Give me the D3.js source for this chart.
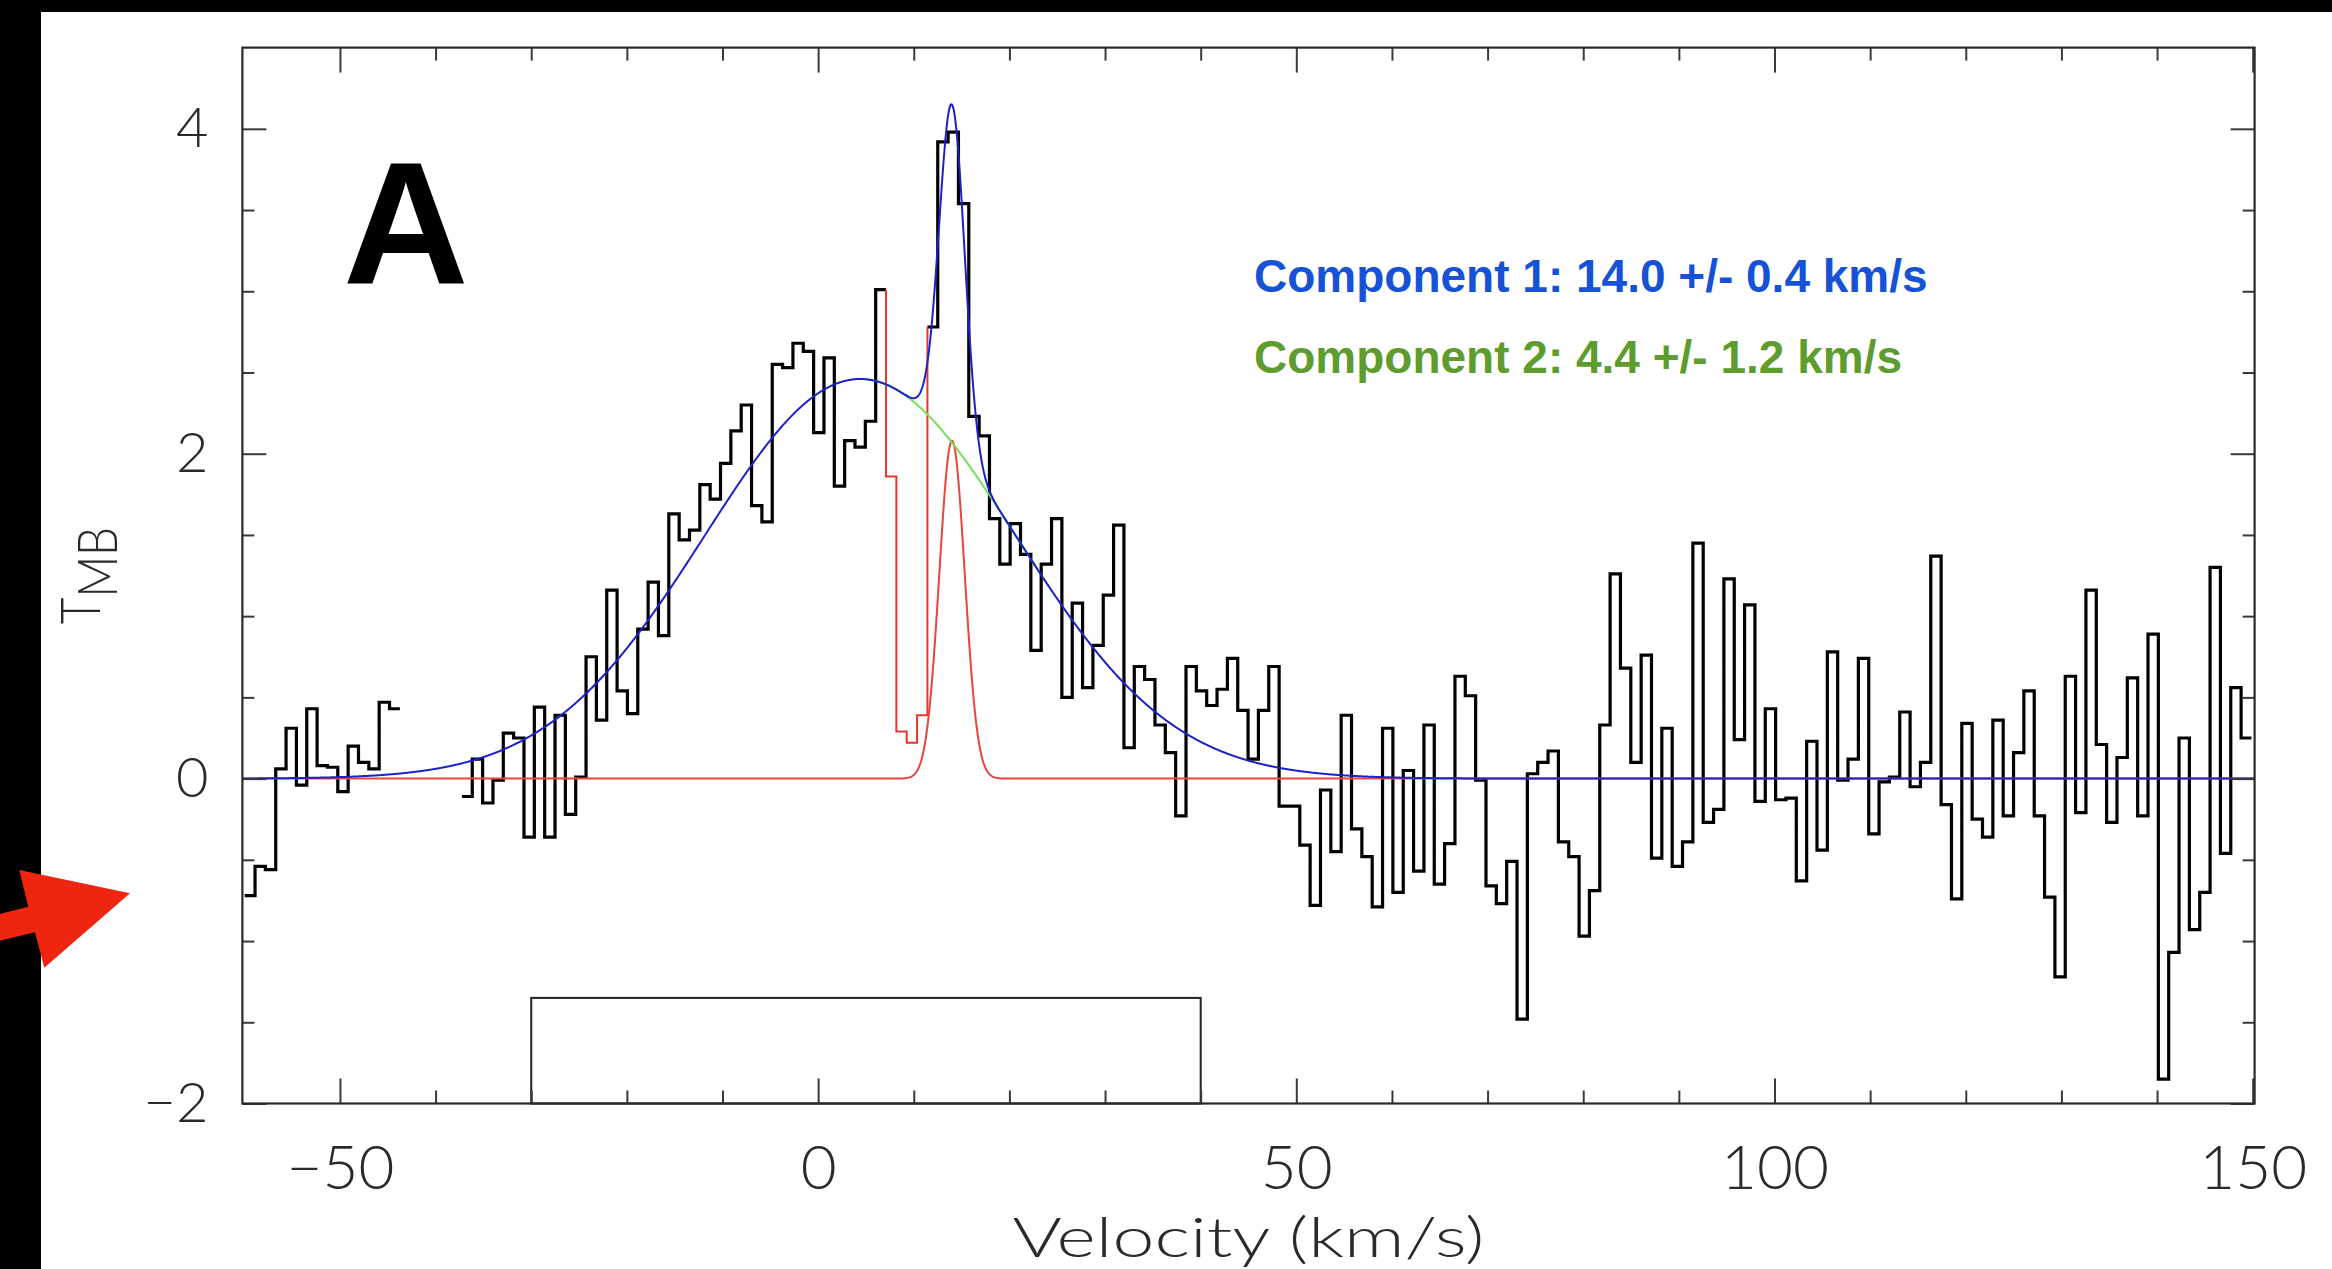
<!DOCTYPE html>
<html>
<head>
<meta charset="utf-8">
<script src="https://cdn.jsdelivr.net/npm/d3@7"></script>
<style>
  html, body { margin: 0; padding: 0; background: #ffffff; }
  svg { display: block; }
</style>
</head>
<body>
<svg id="chart" width="2332" height="1269"></svg>
<script>
// Spectrum channel grid (km/s): left edge of the first channel and channel width
const channelStart = -59.96;
const channelWidth = 1.0816;

// Main-beam temperature per channel (null = no data)
const tmb = [
  -0.72, -0.54, -0.56, 0.06, 0.31, -0.04, 0.43, 0.08, 0.07, -0.08,
  0.20, 0.10, 0.06, 0.47, 0.43, null, null, null, null, null,
  null, -0.11, 0.12, -0.15, -0.01, 0.28, 0.25, -0.36, 0.44, -0.36,
  0.39, -0.22, 0.01, 0.75, 0.36, 1.16, 0.54, 0.40, 0.92, 1.21,
  0.88, 1.63, 1.47, 1.53, 1.81, 1.72, 1.94, 2.14, 2.30, 1.68,
  1.58, 2.55, 2.53, 2.68, 2.63, 2.13, 2.59, 1.80, 2.08, 2.04,
  2.20, 3.01, 1.86, 0.29, 0.22, 0.39, 2.78, 3.92, 3.98, 3.54,
  2.23, 2.11, 1.60, 1.32, 1.57, 1.38, 0.79, 1.32, 1.60, 0.50,
  1.08, 0.56, 0.82, 1.13, 1.56, 0.19, 0.69, 0.61, 0.33, 0.16,
  -0.23, 0.69, 0.54, 0.45, 0.55, 0.74, 0.42, 0.12, 0.42, 0.69,
  -0.17, -0.17, -0.41, -0.78, -0.07, -0.45, 0.39, -0.31, -0.48, -0.79,
  0.31, -0.70, 0.05, -0.57, 0.33, -0.65, -0.40, 0.63, 0.51, -0.01,
  -0.66, -0.77, -0.51, -1.48, 0.03, 0.10, 0.17, -0.39, -0.48, -0.97,
  -0.69, 0.33, 1.26, 0.68, 0.10, 0.76, -0.49, 0.31, -0.54, -0.39,
  1.45, -0.27, -0.19, 1.23, 0.24, 1.07, -0.14, 0.43, -0.13, -0.12,
  -0.63, 0.23, -0.44, 0.78, -0.01, 0.12, 0.74, -0.34, -0.02, 0.01,
  0.41, -0.05, 0.10, 1.37, -0.16, -0.74, 0.34, -0.25, -0.36, 0.36,
  -0.23, 0.16, 0.54, -0.23, -0.73, -1.22, 0.63, -0.21, 1.16, 0.21,
  -0.27, 0.13, 0.62, -0.23, 0.89, -1.85, -1.07, 0.25, -0.93, -0.70,
  1.30, -0.46, 0.56, 0.25
];

// Channels drawn in red (excluded from the fit)
const flaggedChannels = [62, 63, 64, 65];

// Two-component Gaussian fit: centres (km/s), peak temperatures, dispersions (km/s)
const fitCenters = [14.0, 4.4];
const fitAmplitudes = [2.08, 2.46];
const fitSigmas = [1.33, 16.3];
const fitLabels = ["Component 1: 14.0 +/- 0.4 km/s", "Component 2: 4.4 +/- 1.2 km/s"];

// Velocity window marked under the spectrum
const windowRange = [-30, 40];
const windowTop = -1.35;

// Axis ticks
const xMajorTicks = [-50, 0, 50, 100, 150];
const xMinorTicks = [-40, -30, -20, -10, 10, 20, 30, 40, 60, 70, 80, 90, 110, 120, 130, 140];
const yMajorTicks = [-2, 0, 2, 4];
const yMinorTicks = [-1.5, -1, -0.5, 0.5, 1, 1.5, 2.5, 3, 3.5];

const panelLetter = "A";
const xTitle = "Velocity (km/s)";

// ---------------------------------------------------------------------------
const svg = d3.select("#chart");
const W = 2332, H = 1269;
const plot = { left: 242.4, right: 2254.6, top: 47.6, bottom: 1103.5 };

svg.append("rect").attr("width", W).attr("height", H).attr("fill", "#ffffff");
// dark border strips
svg.append("rect").attr("x", 0).attr("y", 0).attr("width", 41).attr("height", H).attr("fill", "#000");
svg.append("rect").attr("x", 0).attr("y", 0).attr("width", W).attr("height", 12).attr("fill", "#000");

const x = d3.scaleLinear().domain([-60.2, 150.2]).range([plot.left, plot.right]);
const y = d3.scaleLinear().domain([-2, 4.5]).range([plot.bottom, plot.top]);

svg.append("defs").append("clipPath").attr("id", "plotClip")
  .append("rect")
  .attr("x", plot.left).attr("y", plot.top)
  .attr("width", plot.right - plot.left).attr("height", plot.bottom - plot.top);

const marks = svg.append("g").attr("clip-path", "url(#plotClip)");

// ---- spectrum as a histogram (step) line ----
const edge = k => channelStart + k * channelWidth;
const stepLine = d3.line().x(d => x(d[0])).y(d => y(d[1])).curve(d3.curveStepAfter);
const flagged = new Set(flaggedChannels);

const segments = [];
let current = [];
tmb.forEach((v, k) => {
  if (v === null || flagged.has(k)) {
    if (current.length) segments.push(current);
    current = [];
  } else {
    current.push(k);
  }
});
if (current.length) segments.push(current);

segments.forEach(ks => {
  const pts = ks.map(k => [edge(k), tmb[k]]);
  const last = ks[ks.length - 1];
  pts.push([edge(last + 1), tmb[last]]);
  marks.append("path")
    .attr("d", stepLine(pts))
    .attr("fill", "none")
    .attr("stroke", "#000")
    .attr("stroke-width", 3.2)
    .attr("stroke-linejoin", "miter");
});

// flagged channels, including the transitions into and out of them
{
  const f0 = flaggedChannels[0];
  const f1 = flaggedChannels[flaggedChannels.length - 1];
  const pts = [[edge(f0), tmb[f0 - 1]]];
  flaggedChannels.forEach(k => pts.push([edge(k), tmb[k]]));
  pts.push([edge(f1 + 1), tmb[f1 + 1]]);
  marks.append("path")
    .attr("d", stepLine(pts))
    .attr("fill", "none")
    .attr("stroke", "#e6372c")
    .attr("stroke-width", 2);
}

// ---- Gaussian fit curves ----
const gauss = (v, i) => fitAmplitudes[i] * Math.exp(-((v - fitCenters[i]) ** 2) / (2 * fitSigmas[i] ** 2));
const curve = d3.line().x(d => x(d[0])).y(d => y(d[1]));
const vs = d3.range(-60.2, 150.25, 0.05);

marks.append("path")
  .attr("d", curve(vs.map(v => [v, gauss(v, 0)])))
  .attr("fill", "none").attr("stroke", "#e8463c").attr("stroke-width", 2);

marks.append("path")
  .attr("d", curve(vs.filter(v => v > 5 && v < 23).map(v => [v, gauss(v, 1)])))
  .attr("fill", "none").attr("stroke", "#74e05a").attr("stroke-width", 2);

marks.append("path")
  .attr("d", curve(vs.map(v => [v, gauss(v, 0) + gauss(v, 1)])))
  .attr("fill", "none").attr("stroke", "#1c22c8").attr("stroke-width", 2);

// ---- velocity window box ----
svg.append("rect")
  .attr("x", x(windowRange[0]))
  .attr("y", y(windowTop))
  .attr("width", x(windowRange[1]) - x(windowRange[0]))
  .attr("height", y(-2) - y(windowTop))
  .attr("fill", "none")
  .attr("stroke", "#222")
  .attr("stroke-width", 2);

// ---- axes (ticks point inward on all four sides) ----
const tickColor = "#3a3a3a";
const labelFont = "Lato, 'DejaVu Sans', sans-serif";
const labelColor = "#2a2a2a";

function styleAxis(g) {
  g.select(".domain").remove();
  g.selectAll(".tick line").attr("stroke", tickColor).attr("stroke-width", 2);
}

svg.append("g").attr("transform", `translate(0,${plot.bottom})`)
  .call(d3.axisBottom(x).tickValues(xMinorTicks).tickSize(-13).tickFormat(""))
  .call(styleAxis);
const xb = svg.append("g").attr("transform", `translate(0,${plot.bottom})`)
  .call(d3.axisBottom(x).tickValues(xMajorTicks).tickSize(-25).tickFormat(d3.format("d")))
  .call(styleAxis);
xb.selectAll(".tick text")
  .attr("y", 85).attr("dy", 0)
  .attr("fill", labelColor)
  .style("font-family", labelFont)
  .style("font-weight", 300)
  .style("font-size", "62px");

svg.append("g").attr("transform", `translate(0,${plot.top})`)
  .call(d3.axisTop(x).tickValues(xMinorTicks).tickSize(-13).tickFormat(""))
  .call(styleAxis);
svg.append("g").attr("transform", `translate(0,${plot.top})`)
  .call(d3.axisTop(x).tickValues(xMajorTicks).tickSize(-25).tickFormat(""))
  .call(styleAxis);

svg.append("g").attr("transform", `translate(${plot.left},0)`)
  .call(d3.axisLeft(y).tickValues(yMinorTicks).tickSize(-12).tickFormat(""))
  .call(styleAxis);
const yl = svg.append("g").attr("transform", `translate(${plot.left},0)`)
  .call(d3.axisLeft(y).tickValues(yMajorTicks).tickSize(-24).tickPadding(34).tickFormat(d3.format("d")))
  .call(styleAxis);
yl.selectAll(".tick text")
  .attr("fill", labelColor)
  .style("font-family", labelFont)
  .style("font-weight", 300)
  .style("font-size", "56px");

svg.append("g").attr("transform", `translate(${plot.right},0)`)
  .call(d3.axisRight(y).tickValues(yMinorTicks).tickSize(-12).tickFormat(""))
  .call(styleAxis);
svg.append("g").attr("transform", `translate(${plot.right},0)`)
  .call(d3.axisRight(y).tickValues(yMajorTicks).tickSize(-24).tickFormat(""))
  .call(styleAxis);

// frame
svg.append("rect")
  .attr("x", plot.left).attr("y", plot.top)
  .attr("width", plot.right - plot.left).attr("height", plot.bottom - plot.top)
  .attr("fill", "none").attr("stroke", "#2a2a2a").attr("stroke-width", 2.2);

// ---- axis titles ----
svg.append("text")
  .attr("x", (plot.left + plot.right) / 2)
  .attr("y", 1257)
  .attr("text-anchor", "middle")
  .attr("textLength", 472)
  .attr("lengthAdjust", "spacingAndGlyphs")
  .attr("fill", labelColor)
  .style("font-family", labelFont)
  .style("font-weight", 300)
  .style("font-size", "56px")
  .text(xTitle);

const yTitle = svg.append("g")
  .attr("transform", `translate(100,${(plot.top + plot.bottom) / 2}) rotate(-90) scale(0.82,1)`)
  .append("text")
  .attr("text-anchor", "middle")
  .attr("fill", labelColor)
  .style("font-family", labelFont)
  .style("font-weight", 300)
  .style("font-size", "56px");
yTitle.append("tspan").text("T");
yTitle.append("tspan").attr("dy", 17).text("MB");

// ---- panel letter and fit annotations ----
svg.append("text")
  .attr("x", 343).attr("y", 284)
  .attr("fill", "#000")
  .style("font-family", "'Liberation Sans', Arial, sans-serif")
  .style("font-weight", "bold")
  .style("font-size", "174px")
  .text(panelLetter);

const labelColors = ["#1552d6", "#5e9c2e"];
const labelBaselines = [291.5, 373];
fitLabels.forEach((t, i) => {
  svg.append("text")
    .attr("x", 1254).attr("y", labelBaselines[i])
    .attr("fill", labelColors[i])
    .style("font-family", "'Liberation Sans', Arial, sans-serif")
    .style("font-weight", "bold")
    .style("font-size", "46px")
    .text(t);
});

// ---- pointer arrow on the left margin ----
const arrowPts = [[0, 940.7], [35, 932.3], [44.3, 967.7], [130, 893.3], [19.3, 870], [28.3, 906.7], [0, 914]];
svg.append("polygon")
  .attr("points", arrowPts.map(p => p.join(",")).join(" "))
  .attr("fill", "#ef2510");
</script>
</body>
</html>
